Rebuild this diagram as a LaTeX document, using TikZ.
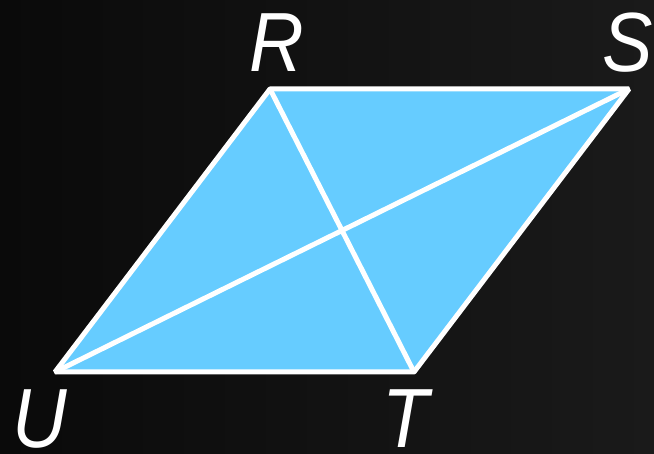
\documentclass[tikz,border=0pt]{standalone}
\usepackage{fontspec}
\setmainfont{Liberation Sans}
\newfontfamily\labelfont[FakeStretch=0.9]{Liberation Sans}
\definecolor{rhombusblue}{RGB}{102,204,255}
\definecolor{bgdark}{RGB}{10,10,10}
\definecolor{bglight}{RGB}{26,26,26}
\tikzset{
	vertexlabel/.style={text=white, inner sep=0pt, font=\labelfont\fontsize{84}{90}\selectfont\itshape},
	edge/.style={draw=white, line width=5pt, line join=bevel}
}
\begin{document}
\begin{tikzpicture}[x=1pt, y=-1pt]
		% Background
		\shade[left color=bgdark, right color=bglight] (0,0) rectangle (654,454);
		\useasboundingbox (0,0) rectangle (654,454);
		
		% Vertices
		\coordinate (R) at (270,89);
		\coordinate (S) at (629,89);
		\coordinate (T) at (414,372);
		\coordinate (U) at (55,372);
		
		% Rhombus
		\fill[rhombusblue] (R) -- (S) -- (T) -- (U) -- cycle;
		\draw[edge] (R) -- (S) -- (T) -- (U) -- cycle;
		
		% Diagonals
		\draw[edge] (R) -- (T);
		\draw[edge] (U) -- (S);
		
		% Labels
		\node[vertexlabel] (labelR) at (277,43) {R};
		\node[vertexlabel] (labelS) at (628,43) {S};
		\node[vertexlabel] (labelU) at (40,419) {U};
		\node[vertexlabel] (labelT) at (406,419) {T};
	\end{tikzpicture}
\end{document}
